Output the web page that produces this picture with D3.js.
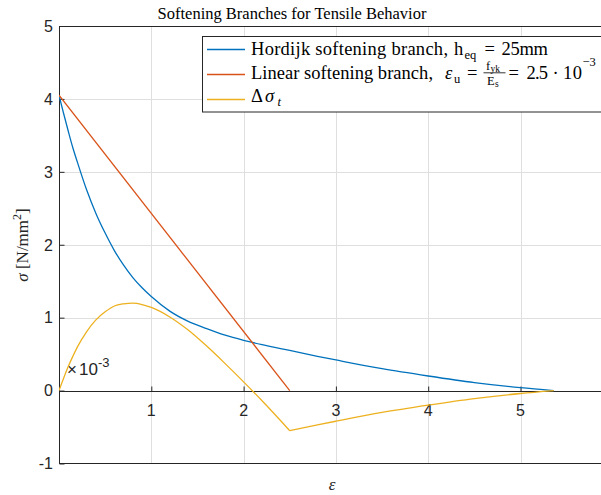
<!DOCTYPE html>
<html>
<head>
<meta charset="utf-8">
<script src="https://cdn.jsdelivr.net/npm/d3@7"></script>
<style>
  html, body { margin: 0; padding: 0; background: #fff; }
  svg { display: block; }
</style>
</head>
<body>
<svg id="chart" width="601" height="495"></svg>
<script>
// Strain values (x 10^-3) at which the curves are sampled
const eps = [0, 0.05, 0.1, 0.15, 0.2, 0.3, 0.4, 0.5, 0.6, 0.7, 0.8, 0.9, 1.0, 1.2, 1.4, 1.6, 1.8,
             2.0, 2.2, 2.5, 2.8, 3.0, 3.5, 4.0, 4.5, 5.0, 5.36];
// Hordijk softening branch, stress in N/mm^2
const hordijk = [4.05, 3.80, 3.56, 3.33, 3.13, 2.75, 2.43, 2.16, 1.92, 1.72, 1.55, 1.41, 1.29, 1.09, 0.95, 0.85, 0.76,
                 0.69, 0.63, 0.55, 0.47, 0.42, 0.30, 0.20, 0.11, 0.04, 0];
// Difference between the two branches
const deltaSigma = [0, 0.17, 0.33, 0.47, 0.60, 0.81, 0.97, 1.08, 1.16, 1.19, 1.20, 1.18, 1.14, 1.01, 0.83, 0.61, 0.37,
                    0.12, -0.14, -0.55, -0.47, -0.42, -0.30, -0.20, -0.11, -0.04, 0];
// Linear softening branch end points
const linearEps = [0, 2.5];
const linearSigma = [4.05, 0];

const xTicks = [1, 2, 3, 4, 5];
const yTicks = [-1, 0, 1, 2, 3, 4, 5];
const yTickLabels = ["-1", "0", "1", "2", "3", "4", "5"];

const colors = { hordijk: "#0072BD", linear: "#D95319", delta: "#EDB120" };
const axisColor = "#262626";
const sans = "'Liberation Sans', Arial, Helvetica, sans-serif";
const serif = "'Liberation Serif', 'Times New Roman', serif";

const svg = d3.select("#chart");
const plotLeft = 59, plotTop = 26, plotBottom = 463.5;
const x = d3.scaleLinear().domain([0, 6]).range([plotLeft, plotLeft + 6 * 92.3]);
const y = d3.scaleLinear().domain([-1, 5]).range([plotBottom, plotTop]);
const plotRight = x(6);

svg.append("defs").append("clipPath").attr("id", "plotClip")
  .append("rect").attr("x", plotLeft).attr("y", plotTop)
  .attr("width", plotRight - plotLeft).attr("height", plotBottom - plotTop);

// Grid
const grid = svg.append("g").attr("stroke", "#dfdfdf").attr("stroke-width", 1);
grid.selectAll("line.v").data(xTicks).join("line")
  .attr("x1", d => Math.round(x(d)) + 0.5).attr("x2", d => Math.round(x(d)) + 0.5)
  .attr("y1", plotTop).attr("y2", plotBottom);
grid.selectAll("line.h").data(yTicks.filter(d => d > 0)).join("line")
  .attr("x1", plotLeft).attr("x2", plotRight)
  .attr("y1", d => Math.round(y(d)) + 0.5).attr("y2", d => Math.round(y(d)) + 0.5);

// Box lines and axes
const ax = svg.append("g").attr("stroke", axisColor).attr("stroke-width", 1).attr("fill", "none");
ax.append("line").attr("x1", plotLeft).attr("x2", plotRight).attr("y1", plotTop + 0.5).attr("y2", plotTop + 0.5);
ax.append("line").attr("x1", plotLeft).attr("x2", plotRight)
  .attr("y1", Math.round(plotBottom) - 0.5).attr("y2", Math.round(plotBottom) - 0.5);
ax.append("line").attr("x1", plotLeft + 0.5).attr("x2", plotLeft + 0.5).attr("y1", plotTop).attr("y2", plotBottom);

// x axis through the origin, ticks pointing inward
const xAxis = d3.axisTop(x).tickValues(xTicks).tickSize(5).tickFormat("");
const xg = svg.append("g").attr("transform", `translate(0,${Math.round(y(0)) + 0.5})`).call(xAxis);
xg.select(".domain").attr("stroke", axisColor).attr("d", `M${plotLeft},0H${plotRight}`);
xg.selectAll(".tick line").attr("stroke", axisColor);
svg.append("g").selectAll("text").data(xTicks).join("text")
  .attr("x", d => x(d)).attr("y", y(0) + 25)
  .attr("text-anchor", "middle").attr("font-family", sans).attr("font-size", 16)
  .attr("fill", axisColor).text(d => d);

// y axis, ticks pointing inward
const yAxis = d3.axisRight(y).tickValues(yTicks).tickSize(5).tickFormat("");
const yg = svg.append("g").attr("transform", `translate(${plotLeft + 0.5},0)`).call(yAxis);
yg.select(".domain").remove();
yg.selectAll(".tick line").attr("stroke", axisColor);
svg.append("g").selectAll("text").data(yTicks).join("text")
  .attr("x", plotLeft - 6).attr("y", d => y(d)).attr("dy", "0.36em")
  .attr("text-anchor", "end").attr("font-family", sans).attr("font-size", 16)
  .attr("fill", axisColor).text((d, i) => yTickLabels[i]);

// Exponent label
const expo = svg.append("text").attr("y", 375)
  .attr("font-family", sans).attr("font-size", 17).attr("fill", axisColor);
expo.append("tspan").attr("x", 67).attr("font-weight", 300).text("×");
expo.append("tspan").attr("x", 79).text("10");
expo.append("tspan").attr("x", 98).attr("dy", -8).attr("font-size", 13).text("-3");

// Curves
const plot = svg.append("g").attr("clip-path", "url(#plotClip)").attr("fill", "none").attr("stroke-width", 1.3);
const pts = (xs, ys) => xs.map((e, i) => [e, ys[i]]);
const smooth = d3.line().x(d => x(d[0])).y(d => y(d[1])).curve(d3.curveMonotoneX);
const straight = d3.line().x(d => x(d[0])).y(d => y(d[1]));

plot.append("path").attr("stroke", colors.hordijk).attr("d", smooth(pts(eps, hordijk)));
plot.append("path").attr("stroke", colors.linear).attr("d", straight(pts(linearEps, linearSigma)));
const deltaPts = pts(eps, deltaSigma);
const kink = eps.indexOf(linearEps[1]);
plot.append("path").attr("stroke", colors.delta).attr("d", smooth(deltaPts.slice(0, kink + 1)));
plot.append("path").attr("stroke", colors.delta).attr("d", smooth(deltaPts.slice(kink)));

// Title and axis labels
svg.append("text").attr("x", 292).attr("y", 18.5).attr("text-anchor", "middle")
  .attr("font-family", serif).attr("font-size", 16.5).attr("fill", "#000")
  .text("Softening Branches for Tensile Behavior");
svg.append("text").attr("x", 332).attr("y", 490).attr("text-anchor", "middle")
  .attr("font-family", serif).attr("font-style", "italic").attr("font-size", 17).attr("fill", axisColor)
  .text("ε");
const yl = svg.append("text").attr("transform", "translate(28,245) rotate(-90)").attr("text-anchor", "middle")
  .attr("font-family", serif).attr("font-size", 17).attr("fill", axisColor);
yl.append("tspan").attr("font-style", "italic").text("σ");
yl.append("tspan").text(" [N/mm");
yl.append("tspan").attr("dy", -7).attr("font-size", 12).text("2");
yl.append("tspan").attr("dy", 7).text("]");

// Legend
const lg = svg.append("g");
lg.append("rect").attr("x", 202.5).attr("y", 36.5).attr("width", 420).attr("height", 75.5)
  .attr("fill", "#fff").attr("stroke", axisColor).attr("stroke-width", 1);
const rowsY = [49, 74, 99];
const rowColors = [colors.hordijk, colors.linear, colors.delta];
rowsY.forEach((ry, i) => {
  lg.append("line").attr("x1", 207).attr("x2", 245).attr("y1", ry + 0.5).attr("y2", ry + 0.5)
    .attr("stroke", rowColors[i]).attr("stroke-width", 1.3);
});

const big = 18.5, small = 12.5, tiny = 9.5;
// Place one piece of legend text; an optional width stretches the letter spacing
function piece(str, px, py, opts = {}) {
  const t = lg.append("text").attr("x", px).attr("y", py)
    .attr("font-family", serif).attr("font-size", opts.size || big).attr("fill", "#000")
    .attr("font-style", opts.italic ? "italic" : "normal").text(str);
  if (opts.width) t.attr("textLength", opts.width).attr("lengthAdjust", "spacing");
  return t;
}
// Row 1: Hordijk
piece("Hordijk softening branch,", 251, 54.7, { width: 197 });
piece("h", 454, 54.7);
piece("eq", 464.5, 58.5, { size: small });
piece("=", 484.5, 54.7);
piece("25mm", 501.5, 54.7, { width: 46.5 });
// Row 2: linear branch with its fraction
piece("Linear softening branch,", 251, 78.7, { width: 182 });
piece("ε", 445, 78.7, { italic: true });
piece("u", 454, 82.5, { size: small });
piece("=", 467, 78.7);
piece("f", 486, 69.5, { size: small });
piece("yk", 490.5, 71.5, { size: tiny });
piece("E", 487, 84.5, { size: small });
piece("s", 495, 86.5, { size: tiny });
lg.append("line").attr("x1", 483.5).attr("x2", 505.5).attr("y1", 72.8).attr("y2", 72.8)
  .attr("stroke", "#000").attr("stroke-width", 0.8);
piece("=", 508.5, 78.7);
piece("2.5", 526.5, 78.7, { width: 21.5 });
piece("·", 552.5, 78.7);
piece("10", 563, 78.7, { width: 19 });
piece("−3", 582.5, 65.5, { size: small });
// Row 3: stress difference
piece("Δ", 251, 102.3);
piece("σ", 265, 102.3, { italic: true });
piece("t", 277.5, 106, { size: small, italic: true });
</script>
</body>
</html>
